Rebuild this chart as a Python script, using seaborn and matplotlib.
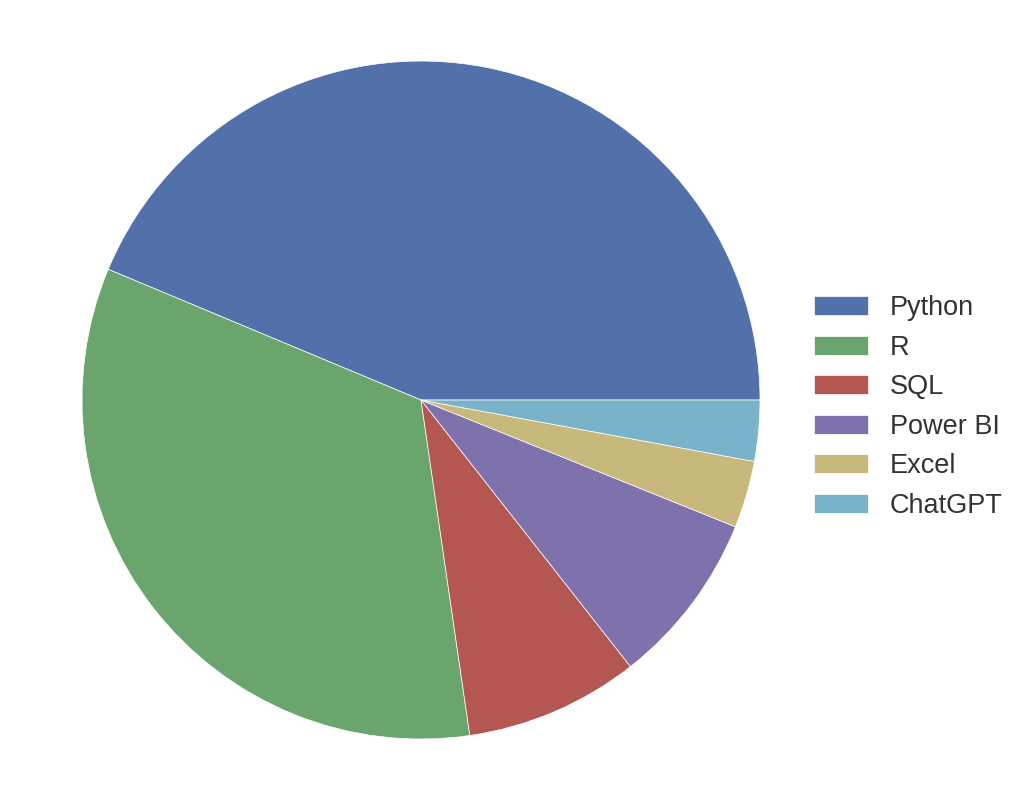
import numpy as np
import matplotlib
matplotlib.use("Agg")
import matplotlib.pyplot as plt
import seaborn as sns

tools = ["Python", "R", "SQL", "Power BI", "Excel", "ChatGPT"]
share = [43.7, 33.6, 8.3, 8.3, 3.2, 2.9]

sns.set_theme(style="white")
plt.rcParams['font.family'] = ['Liberation Sans', 'DejaVu Sans']
# deep6 as it shows up in the screenshot (slightly muted)
colors = sns.color_palette(["#5270AA", "#6AA56E", "#B45652", "#7F72AC", "#C7B97C", "#78B3C9"])

fig = plt.figure(figsize=(10.24, 7.98), dpi=100)
ax = fig.add_axes([0.0801, 0.0739, 0.6621, 0.8496])
wedges, _ = ax.pie(share, colors=colors, startangle=0, counterclock=True,
                   wedgeprops={'linewidth': 0.5, 'edgecolor': 'white'})
ax.set_xlim(-1, 1)
ax.set_ylim(-1, 1)
ax.set_aspect('equal')

fig.legend(wedges, tools, loc='center left', bbox_to_anchor=(0.771, 0.490),
           frameon=False, fontsize=19.5, labelcolor='.2')

fig.savefig("out.png", dpi=100)
